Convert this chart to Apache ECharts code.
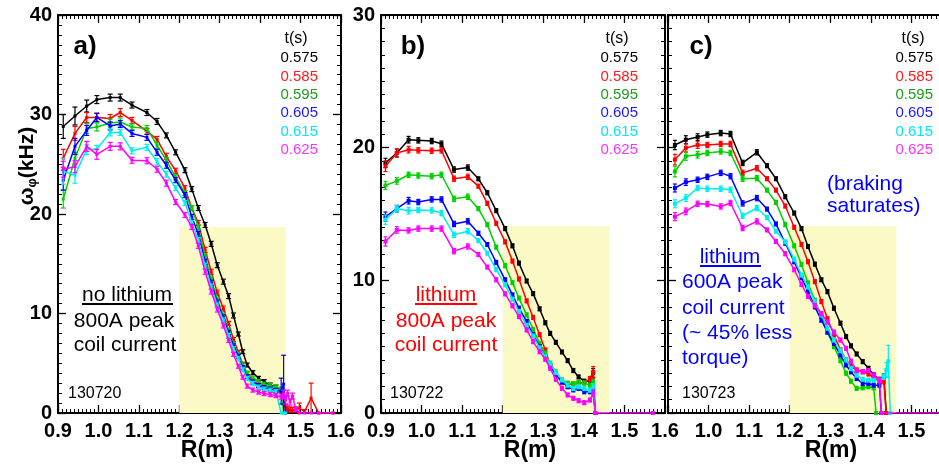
<!DOCTYPE html>
<html>
<head>
<meta charset="utf-8">
<script src="https://cdn.jsdelivr.net/npm/echarts@6/dist/echarts.min.js"></script>
<style>
  html, body { margin: 0; padding: 0; background: #ffffff; }
  #chart { width: 939px; height: 466px; }
</style>
</head>
<body>
<div id="chart"></div>
<script>
// Toroidal rotation profiles omega_phi(R) at six times, three discharges.

const TIMES = ['0.575', '0.585', '0.595', '0.605', '0.615', '0.625'];
const X_TICKS = [0.9, 1.6, 0.1];

// ---- a) 130720, no lithium, 800A ----
const Ra = [0.913, 0.942, 0.971, 0.996, 1.029, 1.054, 1.083, 1.120, 1.145, 1.168, 1.191, 1.214, 1.231, 1.247, 1.264, 1.279, 1.294, 1.309, 1.322, 1.334, 1.346, 1.357, 1.368, 1.382, 1.396, 1.410, 1.425, 1.439, 1.452, 1.458, 1.463, 1.468, 1.474, 1.480, 1.488, 1.497, 1.510, 1.526, 1.545, 1.580];
const aBlack = [28.8, 29.85, 30.85, 31.5, 31.7, 31.7, 30.95, 30.2, 29.3, 27.9, 26.2, 24.4, 22.5, 20.6, 18.9, 17.0, 14.85, 13.2, 11.75, 9.8, 7.94, 6.16, 4.82, 4.05, 3.48, 3.15, 2.81, 2.6, 2.31, null, null, null, null, null, null, null, null, null, null, null];
const aRed = [25.6, 28.1, 29.7, 29.7, 29.6, 30.2, 29.4, 28.3, 27.5, 25.8, 24.35, 22.6, 20.6, 19.1, 16.4, 14.2, 12.1, 10.5, 9.0, 7.4, 6.1, 4.9, 3.95, 3.25, 2.9, 2.7, 2.5, 2.35, 2.2, 1.3, 0.6, 0.4, 0.3, 0.25, 0.3, 0.5, 0.15, 1.5, 0, 0];
const aGreen = [21.5, 25.6, 28.6, 28.75, 29.15, 29.25, 28.75, 28.6, 26.9, 25.4, 23.7, 22.1, 20.6, 18.7, 15.7, 13.4, 11.4, 9.8, 8.3, 6.9, 5.9, 4.8, 4.0, 3.5, 3.15, 2.9, 2.75, 2.6, 2.4, 0, null, null, null, null, null, null, null, null, null, null];
const aBlue = [23.4, 26.8, 28.4, 29.7, 28.85, 29.05, 28.1, 27.7, 26.2, 24.9, 23.4, 21.9, 19.7, 18.0, 15.2, 13.1, 11.1, 9.6, 8.1, 6.75, 5.7, 4.55, 3.65, 3.1, 2.75, 2.55, 2.4, 2.25, 2.2, 2.9, 0, null, null, null, null, null, null, null, null, null];
const aCyan = [24.3, 23.9, 26.5, 26.5, 28.2, 28.2, 26.35, 26.7, 25.25, 24.0, 22.6, 21.1, 19.1, 17.4, 14.8, 12.7, 10.8, 9.3, 7.8, 6.45, 5.45, 4.35, 3.45, 2.95, 2.6, 2.4, 2.3, 2.15, 0, 0, 0, null, null, null, null, null, null, null, null, null];
const aMagenta = [24.5, 24.75, 26.8, 26.0, 26.8, 26.8, 25.4, 25.35, 24.5, 23.1, 21.2, 19.9, 18.7, 16.8, 14.2, 12.2, 10.4, 8.8, 7.3, 5.9, 4.7, 3.6, 2.7, 2.3, 2.1, 1.95, 1.85, 1.75, 1.6, 1.9, 1.3, 2.0, 1.1, 1.7, 0.4, 0, 0, 0, 0, 0];
const aBlackErr = [1.2, 0.9, 0.6, 0.4, 0.35, 0.35, 0.3, 0.3, 0.3, 0.25, 0.25, 0.25, 0.25, 0.25, 0.25, 0.25, 0.25, 0.25, 0.25, 0.25, 0.2, 0.2, 0.2, 0.2, 0.2, 0.2, 0.2, 0.2, 0.2, null, null, null, null, null, null, null, null, null, null, null];
const aRedErr = [0.9, 0.7, 0.5, 0.45, 0.4, 0.4, 0.3, 0.3, 0.3, 0.3, 0.25, 0.25, 0.25, 0.25, 0.25, 0.25, 0.25, 0.25, 0.2, 0.2, 0.2, 0.2, 0.2, 0.2, 0.2, 0.2, 0.2, 0.2, 0.2, 0.5, 0.3, 0.3, 0.3, 0.3, 0.3, 0.5, 0.2, 1.5, 0, 0];
const aGreenErr = [0.9, 0.6, 0.5, 0.4, 0.4, 0.4, 0.3, 0.3, 0.3, 0.3, 0.25, 0.25, 0.25, 0.25, 0.25, 0.25, 0.25, 0.25, 0.2, 0.2, 0.2, 0.2, 0.2, 0.2, 0.2, 0.2, 0.2, 0.2, 0.2, 0, null, null, null, null, null, null, null, null, null, null];
const aBlueErr = [1.0, 0.8, 0.5, 0.4, 0.4, 0.35, 0.3, 0.3, 0.3, 0.3, 0.25, 0.25, 0.25, 0.25, 0.25, 0.25, 0.25, 0.25, 0.2, 0.2, 0.2, 0.2, 0.2, 0.2, 0.2, 0.2, 0.2, 0.2, 1.3, 2.9, 0, null, null, null, null, null, null, null, null, null];
const aCyanErr = [1.3, 0.8, 0.5, 0.4, 0.35, 0.3, 0.3, 0.3, 0.3, 0.3, 0.25, 0.25, 0.25, 0.25, 0.25, 0.25, 0.25, 0.25, 0.2, 0.2, 0.2, 0.2, 0.2, 0.2, 0.2, 0.2, 0.2, 0.2, 0, 0, 0, null, null, null, null, null, null, null, null, null];
const aMagentaErr = [0.8, 0.6, 0.5, 0.5, 0.4, 0.35, 0.3, 0.3, 0.3, 0.3, 0.25, 0.25, 0.25, 0.25, 0.25, 0.25, 0.25, 0.25, 0.2, 0.2, 0.2, 0.2, 0.2, 0.2, 0.2, 0.2, 0.2, 0.2, 0.2, 0.4, 0.4, 0.3, 0.3, 0.3, 0.2, 0, 0, 0, 0, 0];

// ---- b) 130722, lithium, 800A ----
const Rb = [0.911, 0.939, 0.968, 0.992, 1.025, 1.049, 1.080, 1.114, 1.140, 1.162, 1.184, 1.206, 1.224, 1.240, 1.259, 1.275, 1.291, 1.305, 1.317, 1.331, 1.346, 1.360, 1.374, 1.387, 1.401, 1.415, 1.423, 1.428, 1.570];
const bBlack = [18.85, 19.6, 20.6, 20.55, 20.5, 20.3, 18.35, 18.5, 17.65, 16.6, 15.25, 13.9, 12.6, 11.3, 9.95, 9.0, 7.85, 6.8, 6.0, 5.33, 4.6, 3.95, 3.2, 2.72, 2.4, 2.42, 3.0, 0, null];
const bRed = [18.6, 19.6, 19.85, 19.8, 19.77, 19.8, 17.66, 17.8, 17.1, 15.8, 14.3, 12.9, 11.45, 10.1, 8.45, 7.2, 5.9, 4.75, 3.6, 2.95, 2.3, 2.15, 2.2, 2.25, 2.3, 2.55, 3.1, 0, null];
const bGreen = [17.15, 17.5, 17.96, 17.9, 17.85, 17.96, 16.15, 16.3, 15.4, 14.2, 12.5, 11.1, 9.83, 8.66, 7.4, 6.3, 5.25, 4.5, 3.75, 3.1, 2.5, 2.25, 2.2, 2.3, 2.25, 2.1, 2.3, 0, null];
const bBlue = [14.8, 15.4, 16.0, 15.9, 16.1, 16.1, 14.25, 14.45, 13.55, 12.7, 11.35, 10.04, 8.9, 7.9, 6.9, 5.9, 5.0, 4.25, 3.55, 2.87, 2.36, 1.98, 1.74, 1.86, 1.6, 1.6, 1.86, 0, null];
const bCyan = [14.57, 15.4, 15.25, 15.3, 15.27, 15.07, 13.43, 13.7, 13.0, 12.05, 10.8, 9.66, 8.58, 7.65, 6.6, 5.8, 4.9, 4.25, 3.7, 3.05, 2.5, 2.1, 1.85, 1.98, 1.85, 1.72, 2.0, 0, null];
const bMagenta = [12.93, 13.8, 13.76, 13.9, 13.9, 13.9, 12.2, 12.55, 11.95, 11.0, 10.04, 8.98, 8.08, 7.27, 6.26, 5.38, 4.62, 4.05, 3.37, 2.54, 1.86, 1.36, 1.11, 0.93, 0.78, 0.98, 1.49, 0, 0];
const bBlackErr = [0.35, 0.3, 0.25, 0.2, 0.2, 0.2, 0.2, 0.2, 0.15, 0.15, 0.15, 0.15, 0.15, 0.15, 0.15, 0.15, 0.15, 0.15, 0.15, 0.15, 0.15, 0.15, 0.15, 0.15, 0.15, 0.2, 0.35, 0, null];
const bRedErr = [0.4, 0.3, 0.25, 0.2, 0.2, 0.2, 0.2, 0.2, 0.15, 0.15, 0.15, 0.15, 0.15, 0.15, 0.15, 0.15, 0.15, 0.15, 0.15, 0.15, 0.15, 0.15, 0.15, 0.15, 0.15, 0.2, 0.4, 0, null];
const bGreenErr = [0.3, 0.25, 0.2, 0.2, 0.2, 0.2, 0.2, 0.2, 0.15, 0.15, 0.15, 0.15, 0.15, 0.15, 0.15, 0.15, 0.15, 0.15, 0.15, 0.15, 0.15, 0.15, 0.15, 0.15, 0.15, 0.15, 0.2, 0, null];
const bBlueErr = [0.35, 0.25, 0.25, 0.2, 0.2, 0.2, 0.2, 0.2, 0.15, 0.15, 0.15, 0.15, 0.15, 0.15, 0.15, 0.15, 0.15, 0.15, 0.15, 0.15, 0.15, 0.15, 0.15, 0.15, 0.15, 0.15, 0.2, 0, null];
const bCyanErr = [0.35, 0.25, 0.25, 0.2, 0.2, 0.2, 0.2, 0.2, 0.15, 0.15, 0.15, 0.15, 0.15, 0.15, 0.15, 0.15, 0.15, 0.15, 0.15, 0.15, 0.15, 0.15, 0.15, 0.15, 0.15, 0.15, 0.2, 0, null];
const bMagentaErr = [0.35, 0.25, 0.2, 0.2, 0.2, 0.2, 0.2, 0.2, 0.15, 0.15, 0.15, 0.15, 0.15, 0.15, 0.15, 0.15, 0.15, 0.15, 0.15, 0.15, 0.15, 0.15, 0.15, 0.15, 0.15, 0.15, 0.25, 0, 0];

// ---- c) 130723, lithium, 600A ----
const Rc = [0.917, 0.944, 0.973, 0.997, 1.030, 1.054, 1.084, 1.119, 1.144, 1.166, 1.189, 1.211, 1.229, 1.245, 1.262, 1.278, 1.293, 1.309, 1.325, 1.339, 1.351, 1.365, 1.380, 1.394, 1.407, 1.413, 1.421, 1.426, 1.432, 1.438, 1.443, 1.448, 1.600];
const cBlack = [20.2, 20.6, 20.8, 20.98, 21.1, 21.03, 18.85, 19.65, 18.64, 17.66, 16.3, 15.07, 13.9, 12.55, 11.22, 10.04, 9.15, 7.9, 6.77, 5.76, 5.06, 4.45, 3.87, 3.37, 2.87, null, 2.54, null, 2.74, 0, null, null, null];
const cRed = [19.1, 19.98, 20.2, 20.2, 20.28, 20.28, 18.1, 18.45, 17.66, 16.8, 15.6, 14.0, 12.7, 11.4, 9.9, 8.4, 7.1, 5.9, 4.75, 4.0, 3.5, 3.25, 3.12, 2.94, 2.69, null, 2.36, null, 2.4, 0, null, null, null];
const cGreen = [18.2, 19.35, 19.47, 19.6, 19.72, 19.6, 17.66, 17.7, 16.8, 15.87, 14.2, 12.6, 11.2, 9.8, 8.5, 7.27, 6.1, 5.0, 3.95, 3.0, 2.4, 1.85, 1.9, 1.98, 1.9, 0, null, null, null, null, null, null, null];
const cBlue = [16.96, 17.4, 17.58, 17.8, 18.1, 17.85, 15.8, 16.2, 15.37, 14.25, 12.8, 11.4, 10.2, 9.15, 8.0, 7.0, 6.1, 5.25, 4.37, 3.62, 3.1, 2.6, 2.23, 2.23, 2.1, null, 2.1, 0, null, null, null, null, null];
const cCyan = [15.77, 16.2, 16.96, 16.9, 16.9, 16.83, 14.87, 15.45, 14.74, 13.7, 12.9, 11.6, 10.4, 9.5, 8.4, 7.4, 6.4, 5.5, 4.7, 4.0, 3.35, 2.85, 2.54, 2.48, 2.48, null, 2.45, null, 2.73, 3.25, 3.9, 0, null];
const cMagenta = [14.8, 15.2, 15.77, 15.75, 15.57, 15.83, 13.94, 14.44, 13.8, 12.93, 12.0, 10.8, 9.7, 8.78, 8.1, 7.5, 6.85, 6.1, 5.5, 4.87, 3.9, 3.2, 3.1, 3.2, 2.85, null, 2.48, 0, null, null, null, null, 0];
const cBlackErr = [0.35, 0.3, 0.25, 0.2, 0.2, 0.2, 0.2, 0.2, 0.15, 0.15, 0.15, 0.15, 0.15, 0.15, 0.15, 0.15, 0.15, 0.15, 0.15, 0.15, 0.15, 0.15, 0.15, 0.15, 0.15, null, 0.15, null, 0.2, 0, null, null, null];
const cRedErr = [0.4, 0.3, 0.25, 0.2, 0.2, 0.2, 0.2, 0.2, 0.15, 0.15, 0.15, 0.15, 0.15, 0.15, 0.15, 0.15, 0.15, 0.15, 0.15, 0.15, 0.15, 0.15, 0.15, 0.15, 0.15, null, 0.15, null, 0.2, 0, null, null, null];
const cGreenErr = [0.4, 0.3, 0.25, 0.2, 0.2, 0.2, 0.2, 0.2, 0.15, 0.15, 0.15, 0.15, 0.15, 0.15, 0.15, 0.15, 0.15, 0.15, 0.15, 0.15, 0.15, 0.15, 0.15, 0.15, 0.15, 0, null, null, null, null, null, null, null];
const cBlueErr = [0.3, 0.25, 0.2, 0.2, 0.2, 0.2, 0.2, 0.2, 0.15, 0.15, 0.15, 0.15, 0.15, 0.15, 0.15, 0.15, 0.15, 0.15, 0.15, 0.15, 0.15, 0.15, 0.15, 0.15, 0.15, null, 0.15, 0, null, null, null, null, null];
const cCyanErr = [0.3, 0.25, 0.2, 0.2, 0.2, 0.2, 0.2, 0.2, 0.15, 0.15, 0.15, 0.15, 0.15, 0.15, 0.15, 0.15, 0.15, 0.15, 0.15, 0.15, 0.15, 0.15, 0.15, 0.15, 0.15, null, 0.15, null, 0.2, 0.55, 1.2, 0, null];
const cMagentaErr = [0.3, 0.25, 0.2, 0.2, 0.2, 0.2, 0.2, 0.2, 0.15, 0.15, 0.15, 0.15, 0.15, 0.15, 0.15, 0.15, 0.15, 0.15, 0.15, 0.15, 0.15, 0.15, 0.15, 0.15, 0.15, null, 0.2, 0, null, null, null, null, 0];

// Shaded edge band per panel: [R from, R to, omega from, omega to]
const bandA = [1.2, 1.463, 0, 18.7];
const bandB = [1.2, 1.463, 0, 14.1];
const bandC = [1.2, 1.463, 0, 14.1];

const FONT = '"Liberation Sans", Arial, Helvetica, sans-serif';
const LINE_COLORS = ['#000000', '#ff0000', '#00d000', '#0000ff', '#00eeee', '#ff00ff'];
const LABEL_COLORS = ['#000000', '#ff1a1a', '#1c9e1c', '#1a1aff', '#00e6ff', '#ff33ff'];

const panels = [
  { R: Ra, vals: [aBlack, aRed, aGreen, aBlue, aCyan, aMagenta], errs: [aBlackErr, aRedErr, aGreenErr, aBlueErr, aCyanErr, aMagentaErr], band: bandA, sym: 3, cap: 2.5 },
  { R: Rb, vals: [bBlack, bRed, bGreen, bBlue, bCyan, bMagenta], errs: [bBlackErr, bRedErr, bGreenErr, bBlueErr, bCyanErr, bMagentaErr], band: bandB, sym: 4, cap: 2 },
  { R: Rc, vals: [cBlack, cRed, cGreen, cBlue, cCyan, cMagenta], errs: [cBlackErr, cRedErr, cGreenErr, cBlueErr, cCyanErr, cMagentaErr], band: bandC, sym: 4, cap: 2 }
];

const grids = [
  { left: 58, top: 15, width: 283, height: 398, outerBoundsMode: 'none', containLabel: false },
  { left: 381, top: 15, width: 284, height: 398, outerBoundsMode: 'none', containLabel: false },
  { left: 668, top: 15, width: 284, height: 398, outerBoundsMode: 'none', containLabel: false }
];

function xAxisPair(gi, showMin) {
  const common = {
    type: 'value', gridIndex: gi, min: X_TICKS[0], max: X_TICKS[1], interval: X_TICKS[2],
    axisLine: { show: true, onZero: false, lineStyle: { color: '#000', width: 2 } },
    axisTick: { show: true, inside: true, length: 8, lineStyle: { color: '#000', width: 1.3 } },
    minorTick: { show: true, splitNumber: 10, length: 4, lineStyle: { color: '#000', width: 1 } },
    splitLine: { show: false }, minorSplitLine: { show: false }
  };
  return [
    Object.assign({}, common, {
      position: 'bottom',
      axisLabel: { show: true, margin: 8, fontSize: 20, fontWeight: 'bold', fontFamily: FONT, color: '#000',
        showMinLabel: showMin, showMaxLabel: true, hideOverlap: false, formatter: v => v.toFixed(1) }
    }),
    Object.assign({}, common, { position: 'top', axisLabel: { show: false } })
  ];
}

function yAxisPair(gi, ymax, showLabels) {
  const common = {
    type: 'value', gridIndex: gi, min: 0, max: ymax, interval: 10,
    axisLine: { show: true, onZero: false, lineStyle: { color: '#000', width: 2 } },
    axisTick: { show: true, inside: true, length: 8, lineStyle: { color: '#000', width: 1.3 } },
    minorTick: { show: true, splitNumber: 10, length: 4, lineStyle: { color: '#000', width: 1 } },
    splitLine: { show: false }, minorSplitLine: { show: false }
  };
  return [
    Object.assign({}, common, {
      position: 'left',
      axisLabel: { show: showLabels, margin: 6, fontSize: 20, fontWeight: 'bold', fontFamily: FONT, color: '#000' }
    }),
    Object.assign({}, common, { position: 'right', axisLabel: { show: false } })
  ];
}

const xAxes = [].concat(xAxisPair(0, true), xAxisPair(1, true), xAxisPair(2, false));
const yAxes = [].concat(yAxisPair(0, 40, true), yAxisPair(1, 30, true), yAxisPair(2, 30, false));

function bandRender(params, api) {
  const p1 = api.coord([api.value(0), api.value(3)]);
  const p2 = api.coord([api.value(1), api.value(2)]);
  return { type: 'rect', shape: { x: p1[0], y: p1[1], width: p2[0] - p1[0], height: p2[1] - p1[1] },
    style: { fill: '#fbf9c6' } };
}

function errRenderFactory(cap) {
  return function (params, api) {
    const x = api.value(0), y = api.value(1), e = api.value(2);
    const top = api.coord([x, y + e]);
    const bot = api.coord([x, y - e]);
    const style = { stroke: api.visual('color'), lineWidth: 1.2 };
    return { type: 'group', children: [
      { type: 'line', shape: { x1: top[0], y1: top[1], x2: bot[0], y2: bot[1] }, style: style },
      { type: 'line', shape: { x1: top[0] - cap, y1: top[1], x2: top[0] + cap, y2: top[1] }, style: style },
      { type: 'line', shape: { x1: bot[0] - cap, y1: bot[1], x2: bot[0] + cap, y2: bot[1] }, style: style }
    ] };
  };
}

const series = [];
panels.forEach(function (p, pi) {
  series.push({
    type: 'custom', xAxisIndex: 2 * pi, yAxisIndex: 2 * pi, z: 1, silent: true,
    renderItem: bandRender, data: [p.band], encode: { x: [0, 1], y: [2, 3] }, animation: false
  });
  p.vals.forEach(function (vals, si) {
    const color = LINE_COLORS[si];
    const pts = [];
    const bars = [];
    p.R.forEach(function (r, k) {
      if (vals[k] === null) return;
      pts.push([r, vals[k]]);
      const e = p.errs[si][k];
      if (e !== null && e > 0) bars.push([r, vals[k], e]);
    });
    series.push({
      type: 'line', xAxisIndex: 2 * pi, yAxisIndex: 2 * pi, data: pts, z: 3 + si,
      symbol: 'rect', symbolSize: p.sym, showSymbol: true,
      lineStyle: { color: color, width: 1.5 }, itemStyle: { color: color },
      clip: true, animation: false, silent: true
    });
    series.push({
      type: 'custom', xAxisIndex: 2 * pi, yAxisIndex: 2 * pi, data: bars, z: 3 + si,
      encode: { x: 0, y: 1 }, itemStyle: { color: color }, renderItem: errRenderFactory(p.cap),
      clip: true, animation: false, silent: true
    });
  });
});

function txt(x, y, text, size, color, align, extra) {
  return { type: 'text', x: x, y: y, z: 50, silent: true,
    style: Object.assign({ text: text, fontSize: size, fontFamily: FONT, fill: color,
      align: align || 'center', textAlign: align || 'center',
      verticalAlign: 'middle', textVerticalAlign: 'middle' }, extra || {}) };
}
function uline(x1, x2, y, color) {
  return { type: 'line', z: 50, silent: true, shape: { x1: x1, y1: y, x2: x2, y2: y }, style: { stroke: color, lineWidth: 2 } };
}
const BOLD = { fontWeight: 'bold' };

const graphics = [];
// time legends
const legendCols = [{ right: 318, t: 296 }, { right: 638, t: 617 }, { right: 933, t: 913 }];
legendCols.forEach(function (c) {
  graphics.push(txt(c.t, 39, 't(s)', 16, '#000'));
  TIMES.forEach(function (t, i) {
    graphics.push(txt(c.right, 58.3 + i * 18.35, t, 15, LABEL_COLORS[i], 'right'));
  });
});
// panel tags
graphics.push(txt(85, 47, 'a)', 26, '#000', 'center', BOLD));
graphics.push(txt(413, 47, 'b)', 26, '#000', 'center', BOLD));
graphics.push(txt(701, 47, 'c)', 26, '#000', 'center', BOLD));
// shot numbers
graphics.push(txt(68, 394, '130720', 16, '#000', 'left'));
graphics.push(txt(390, 394, '130722', 16, '#000', 'left'));
graphics.push(txt(682, 394, '130723', 16, '#000', 'left'));
// panel a notes
graphics.push(txt(127, 295, 'no lithium', 21, '#000'));
graphics.push(uline(82, 173, 304, '#000'));
graphics.push(txt(124, 321, '800A peak', 21, '#000'));
graphics.push(txt(125, 345, 'coil current', 21, '#000'));
// panel b notes
graphics.push(txt(446, 295, 'lithium', 21, '#ff0000'));
graphics.push(uline(415, 477, 304, '#ff0000'));
graphics.push(txt(446, 321, '800A peak', 21, '#ff0000'));
graphics.push(txt(446, 345, 'coil current', 21, '#ff0000'));
// panel c notes
graphics.push(txt(827, 184, '(braking', 21, '#0000ff', 'left'));
graphics.push(txt(827, 206, 'saturates)', 21, '#0000ff', 'left'));
graphics.push(txt(730, 257, 'lithium', 21, '#0000ff'));
graphics.push(uline(700, 761, 266, '#0000ff'));
graphics.push(txt(682, 282, '600A peak', 21, '#0000ff', 'left'));
graphics.push(txt(682, 308, 'coil current', 21, '#0000ff', 'left'));
graphics.push(txt(682, 333, '(~ 45% less', 21, '#0000ff', 'left'));
graphics.push(txt(682, 358, 'torque)', 21, '#0000ff', 'left'));
// axis titles
graphics.push(txt(207, 451, 'R(m)', 23, '#000', 'center', BOLD));
graphics.push(txt(530, 451, 'R(m)', 23, '#000', 'center', BOLD));
graphics.push(txt(831, 451, 'R(m)', 23, '#000', 'center', BOLD));
graphics.push({
  type: 'text', x: 27, y: 166, rotation: Math.PI / 2, z: 50, silent: true,
  style: {
    text: '{w|ω}{s|φ}{w|(kHz)}',
    align: 'center', textAlign: 'center', verticalAlign: 'middle', textVerticalAlign: 'middle',
    fill: '#000', fontFamily: FONT, fontSize: 21, fontWeight: 'bold',
    rich: {
      w: { fontSize: 21, fontFamily: FONT, fontWeight: 'bold', fill: '#000' },
      s: { fontSize: 13, fontFamily: FONT, fontWeight: 'bold', fill: '#000', padding: [11, 0, 0, 0] }
    }
  }
});

const chart = echarts.init(document.getElementById('chart'), null, { renderer: 'canvas' });
chart.setOption({
  backgroundColor: '#ffffff',
  animation: false,
  grid: grids,
  xAxis: xAxes,
  yAxis: yAxes,
  series: series,
  graphic: graphics
});
</script>
</body>
</html>
